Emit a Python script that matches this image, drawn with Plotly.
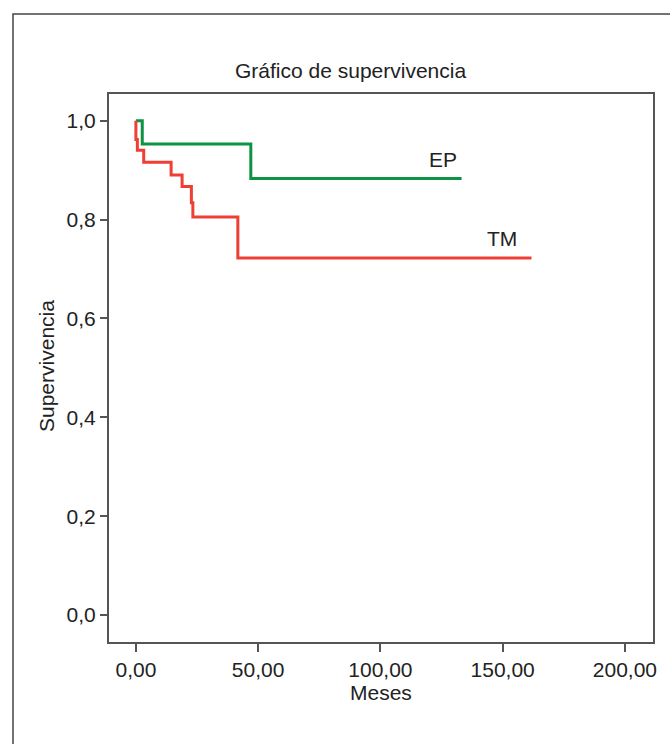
import plotly.graph_objects as go

# Data (Kaplan-Meier step curves)
ep_time = [0.0, 2.6, 47.0, 133.2]
ep_surv = [1.0, 0.953, 0.883, 0.883]

tm_time = [0.0, 0.0, 0.6, 3.2, 14.4, 18.9, 22.7, 23.3, 41.7, 161.8]
tm_surv = [1.0, 0.962, 0.940, 0.916, 0.890, 0.867, 0.834, 0.805, 0.722, 0.722]

x_tickvals = [0, 50, 100, 150, 200]
x_ticktext = ["0,00", "50,00", "100,00", "150,00", "200,00"]
y_tickvals = [0.0, 0.2, 0.4, 0.6, 0.8, 1.0]
y_ticktext = ["0,0", "0,2", "0,4", "0,6", "0,8", "1,0"]

series_labels = ["EP", "TM"]
label_pos = [(125.6, 0.921), (149.7, 0.761)]

W, H = 670, 744
ML, MR, MT, MB = 109, 17, 94, 102
FONT = "Liberation Sans, Arial, sans-serif"
FS = 21
TXT = "#222222"
AX = "#555555"

fig = go.Figure()
fig.add_trace(go.Scatter(x=ep_time, y=ep_surv, mode="lines", line_shape="hv",
                         line=dict(color="#0b9444", width=3), showlegend=False))
fig.add_trace(go.Scatter(x=tm_time, y=tm_surv, mode="lines", line_shape="hv",
                         line=dict(color="#ef3e33", width=3), showlegend=False))

for name, (lx, ly) in zip(series_labels, label_pos):
    fig.add_annotation(x=lx, y=ly, text=name, showarrow=False,
                       font=dict(family=FONT, size=FS, color=TXT))

pw = W - ML - MR
ph = H - MT - MB
def px_x(p):
    return (p - ML) / pw
def px_y(p):
    return (H - MB - p) / ph

# outer frame
fig.add_shape(type="rect", xref="paper", yref="paper",
              x0=px_x(13), x1=px_x(700), y0=px_y(14), y1=px_y(800),
              line=dict(color="#444444", width=1.5))

# title
fig.add_annotation(xref="paper", yref="paper", x=px_x(350), y=px_y(71),
                   text="Gráfico de supervivencia", showarrow=False,
                   xanchor="center", yanchor="middle",
                   font=dict(family=FONT, size=FS, color=TXT))
# axis titles
fig.add_annotation(xref="paper", yref="paper", x=px_x(381), y=px_y(692),
                   text="Meses", showarrow=False, xanchor="center", yanchor="middle",
                   font=dict(family=FONT, size=FS, color=TXT))
fig.add_annotation(xref="paper", yref="paper", x=px_x(46), y=px_y(366),
                   text="Supervivencia", showarrow=False, textangle=-90,
                   xanchor="center", yanchor="middle",
                   font=dict(family=FONT, size=FS, color=TXT))

fig.update_xaxes(range=[-11.0, 211.5], tickvals=x_tickvals, ticktext=x_ticktext,
                 showline=True, linecolor=AX, linewidth=2, mirror=True,
                 ticks="outside", ticklen=8, tickwidth=1.5, tickcolor=AX,
                 showgrid=False, zeroline=False,
                 tickfont=dict(family=FONT, size=FS, color=TXT))
fig.update_yaxes(range=[-0.0546, 1.054], tickvals=y_tickvals, ticktext=y_ticktext,
                 showline=True, linecolor=AX, linewidth=2, mirror=True,
                 ticks="outside", ticklen=7, tickwidth=1.5, tickcolor=AX,
                 showgrid=False, zeroline=False,
                 tickfont=dict(family=FONT, size=FS, color=TXT))

fig.update_layout(width=W, height=H, margin=dict(l=ML, r=MR, t=MT, b=MB),
                  paper_bgcolor="white", plot_bgcolor="white", showlegend=False)

fig.write_html("out.html")
